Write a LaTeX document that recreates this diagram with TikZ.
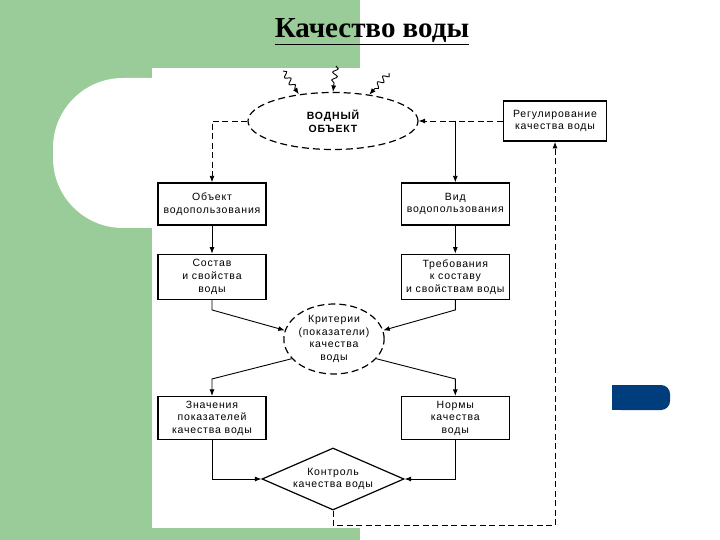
\documentclass[tikz,border=0pt]{standalone}
\usepackage{fontspec}
\setmainfont{Liberation Serif}
\newfontfamily\boxfont[LetterSpace=8]{Liberation Sans}
\usetikzlibrary{positioning,arrows.meta,shapes.geometric,decorations.pathmorphing}
\definecolor{SlideGreen}{HTML}{99CC99}
\definecolor{SlideBlue}{HTML}{003D7C}

\begin{document}
\begin{tikzpicture}[
  x=1pt, y=-1pt,
  node distance=28pt and 134pt,
  box/.style={draw,line width=1.3pt,align=center,minimum width=108pt,minimum height=43pt,inner sep=2pt,font=\boxfont\fontsize{10.5pt}{12.6pt}\selectfont},
  oval/.style={ellipse,draw,line width=1.2pt,dash pattern=on 7pt off 4pt,align=center,inner sep=0pt,font=\boxfont\fontsize{10.5pt}{12.6pt}\selectfont},
  arr/.style={-{Latex[length=6.5pt,width=5pt]},line width=0.9pt},
  darr/.style={arr,dash pattern=on 6pt off 3.5pt},
  wavy/.style={arr,decorate,decoration={snake,amplitude=2.6pt,segment length=8pt,post length=6pt}}
]
% slide background
\useasboundingbox (0,0) rectangle (720,540);
\fill[white] (0,0) rectangle (720,540);
\fill[SlideGreen] (0,0) rectangle (360,540);
\fill[white] (152,68) rectangle (361,528);
\fill[white,rounded corners=70pt] (53,78) rectangle (220,228);
\fill[SlideBlue,rounded corners=9pt] (612,385) rectangle (670,410);
\fill[SlideBlue] (612,385) rectangle (640,410);

\node[font=\fontsize{29pt}{34pt}\selectfont\bfseries,anchor=base] (title) at (372,38) {\underline{Качество воды}};

% nodes
\node[oval,minimum width=170pt,minimum height=57pt,font=\boxfont\bfseries\fontsize{10.5pt}{12.6pt}\selectfont] (water) at (333,121) {ВОДНЫЙ\\ОБЪЕКТ};
\node[box,line width=1.7pt,minimum width=103pt,minimum height=40pt] (reg) at (555,121) {Регулирование\\качества воды};
\node[box,minimum height=42pt] (obj) at (212,204) {Объект\\водопользования};
\node[box,minimum height=42pt,right=of obj] (vid) {Вид\\водопользования};
\node[box,minimum height=45pt,below=of obj] (sostav) {Состав\\и свойства\\воды};
\node[box,minimum height=45pt,below=of vid] (treb) {Требования\\к составу\\и свойствам воды};
\node[oval,minimum width=86pt,minimum height=70pt] (crit) at (334,339) {Критерии\\(показатели)\\качества\\воды};
\node[box,below=96pt of sostav] (znach) {Значения\\показателей\\качества воды};
\node[box,below=96pt of treb] (normy) {Нормы\\качества\\воды};
\node[diamond,draw,line width=1.2pt,aspect=2.3,inner sep=0pt,minimum width=142pt,minimum height=62pt,align=center,
  font=\boxfont\fontsize{10.5pt}{12.6pt}\selectfont] (ctrl) at (333,479) {Контроль\\качества воды};

% inflows
\coordinate (in1) at (283,71);
\coordinate (in2) at (336,66);
\coordinate (in3) at (389,73);
\draw[wavy] (in1) -- (water.142);
\draw[wavy] (in2) -- (water.north);
\draw[wavy] (in3) -- (water.36);

% connectors
\draw[darr] (reg.west) -- (water.east);
\draw[arr] (vid.north |- reg.west) -- (vid.north);
\draw[darr] (water.west) -| (obj.north);
\draw[arr] (obj) -- (sostav);
\draw[arr] (vid) -- (treb);
\draw[arr] (sostav.south) -- ([yshift=-10pt]sostav.south) -- (crit.170);
\draw[arr] (treb.south) -- ([yshift=-10pt]treb.south) -- (crit.10);
\draw[arr] (crit.205) -- ([yshift=17pt]znach.north) -- (znach.north);
\draw[arr] (crit.-25) -- ([yshift=17pt]normy.north) -- (normy.north);
\draw[arr] (znach.south) |- (ctrl.west);
\draw[arr] (normy.south) |- (ctrl.east);
\draw[darr] (ctrl.south) -- ([yshift=-15pt]ctrl.south) -| (reg.south);
\end{tikzpicture}
\end{document}
